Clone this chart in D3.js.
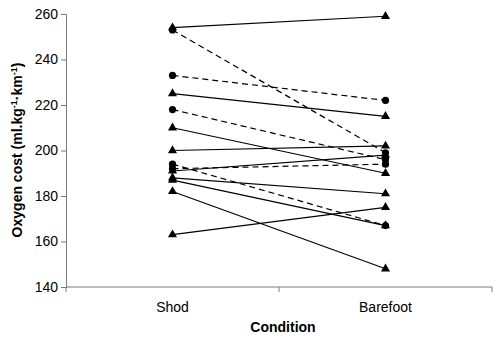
<!DOCTYPE html>
<html><head><meta charset="utf-8">
<script src="https://cdn.jsdelivr.net/npm/d3@7"></script>
<style>body{margin:0;background:#fff}svg{display:block}text{font-family:"Liberation Sans",Arial,sans-serif}</style>
</head><body><svg width="500" height="340"></svg>
<script>
const categories = ["Shod", "Barefoot"];
const yTicks = [140, 160, 180, 200, 220, 240, 260];
const triShod = [254, 225, 210, 200, 191, 188, 187, 182, 163];
const triBare = [259, 215, 190, 202, 198, 181, 167, 148, 175];
const circShod = [253, 233, 218, 194, 192];
const circBare = [199, 222, 196, 167, 194];

const svg = d3.select("svg");
const x = d3.scaleBand().domain(categories).range([66, 492]).padding(0);
const y = d3.scaleLinear().domain([140, 260]).range([287, 14]);
const cx = c => x(c) + x.bandwidth() / 2;
const axisColor = "#7a7a7a";

// y axis
const ya = svg.append("g").attr("transform", "translate(66,0)")
  .call(d3.axisLeft(y).tickValues(yTicks).tickSize(5).tickPadding(3));
ya.select(".domain").attr("stroke", axisColor);
ya.selectAll(".tick line").attr("stroke", axisColor);
ya.selectAll("text").attr("font-size", 14).attr("fill", "#000");

// x axis
const xa = svg.append("g").attr("transform", "translate(0,287)")
  .call(d3.axisBottom(x).tickSize(0).tickPadding(15));
xa.select(".domain").attr("stroke", axisColor).attr("d", "M66,0H492");
xa.selectAll("text").attr("font-size", 14).attr("fill", "#000");
svg.append("g").selectAll("line").data([66, 279, 492]).join("line")
  .attr("x1", d => d).attr("x2", d => d).attr("y1", 287).attr("y2", 292)
  .attr("stroke", axisColor);

// lines
const g = svg.append("g");
triShod.forEach((v, i) => {
  g.append("line").attr("x1", cx("Shod")).attr("y1", y(v))
    .attr("x2", cx("Barefoot")).attr("y2", y(triBare[i]))
    .attr("stroke", "#000").attr("stroke-width", 1.2);
});
circShod.forEach((v, i) => {
  g.append("line").attr("x1", cx("Shod")).attr("y1", y(v))
    .attr("x2", cx("Barefoot")).attr("y2", y(circBare[i]))
    .attr("stroke", "#000").attr("stroke-width", 1.2).attr("stroke-dasharray", "6,4");
});

// markers
const tri = d3.symbol().type(d3.symbolTriangle).size(36);
[["Shod", triShod], ["Barefoot", triBare]].forEach(([c, arr]) => {
  g.selectAll(null).data(arr).join("path")
    .attr("d", tri).attr("transform", d => `translate(${cx(c)},${y(d)})`).attr("fill", "#000");
});
[["Shod", circShod], ["Barefoot", circBare]].forEach(([c, arr]) => {
  g.selectAll(null).data(arr).join("circle")
    .attr("cx", cx(c)).attr("cy", d => y(d)).attr("r", 3.6).attr("fill", "#000");
});

// titles
svg.append("text").attr("x", 283).attr("y", 332).attr("text-anchor", "middle")
  .attr("font-size", 14).attr("font-weight", "bold").text("Condition");
const yt = svg.append("text").attr("transform", "translate(22,150) rotate(-90)")
  .attr("text-anchor", "middle").attr("font-size", 14).attr("font-weight", "bold");
yt.append("tspan").text("Oxygen cost (ml.kg");
yt.append("tspan").attr("dy", -5).attr("font-size", 9).text("-1");
yt.append("tspan").attr("dy", 5).text("·km");
yt.append("tspan").attr("dy", -5).attr("font-size", 9).text("-1");
yt.append("tspan").attr("dy", 5).text(")");
</script></body></html>
